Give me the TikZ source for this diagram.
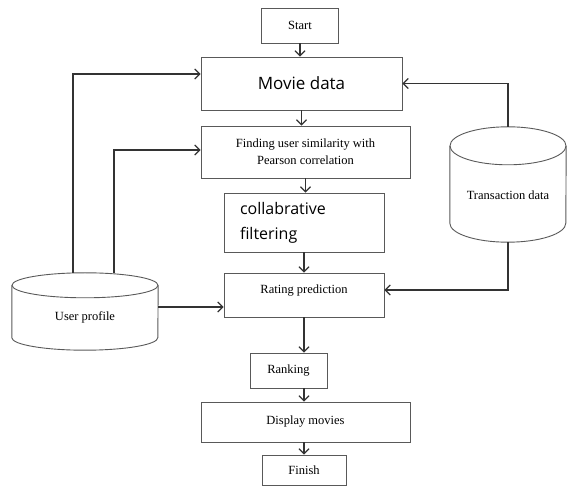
\documentclass[tikz,border=0pt]{standalone}
\usepackage{fontspec}
\setmainfont{Liberation Serif}
\newfontfamily\opensans{Open Sans}
\usetikzlibrary{arrows.meta}

\begin{document}
\begin{tikzpicture}[x=1pt,y=-1pt,
		box/.style={draw=black!65,line width=0.9pt,inner sep=0pt,align=center,font=\fontsize{12.5}{17}\selectfont},
		dbase/.style={inner sep=0pt,font=\fontsize{12.5}{17}\selectfont},
		wall/.style={draw=black!65,line width=0.9pt},
		arr/.style={draw=black!80,line width=1.3pt,-{Straight Barb[length=5pt,width=10pt,line width=1.2pt]}},
		bigfont/.style={font=\opensans\fontsize{16}{25}\selectfont}]
				\useasboundingbox(0,0)rectangle(568,486);
				\node[box,minimum width=77pt,minimum height=35pt](start)at(300,25.5){Start};
				\node[box,bigfont,font=\opensans\fontsize{17}{25}\selectfont,minimum width=201pt,minimum height=53pt](movie)at(301.5,83.5){Movie data};
				\node[box,minimum width=209pt,minimum height=52pt](sim)at(305.5,152){Finding user similarity with\\Pearson correlation};
				\node[box,bigfont,minimum height=59pt,text width=128pt,inner xsep=16pt,align=left](cf)at(304,222.5){collabrative\\filtering};
				\node[box,minimum width=160pt,text height=21pt,text depth=23pt](rate)at(304,295){Rating prediction};
				\node[box,minimum width=77pt,minimum height=35pt](rank)at(288.5,370.5){Ranking};
				\node[box,minimum width=209pt,minimum height=40pt](show)at(305.5,422){Display movies};
				\node[box,minimum width=84pt,minimum height=30pt](finish)at(304,470){Finish};
				% databases
				\node[dbase,minimum width=146pt,text height=48pt,text depth=29pt](user)at(85,311.5){User profile};
				\node[dbase,minimum width=116pt,text height=73pt,text depth=42pt](trans)at(508,184.5){Transaction data};
				\draw[wall]([yshift=-12.5pt]user.north)ellipse[x radius=73,y radius=12.5];
				\draw[wall]([yshift=-12.5pt]user.north west)--([yshift=12.5pt]user.south west)arc[start angle=180,end angle=0,x radius=73,y radius=12.5]--([yshift=-12.5pt]user.north east);
				\draw[wall]([yshift=-19pt]trans.north)ellipse[x radius=58,y radius=19];
				\draw[wall]([yshift=-19pt]trans.north west)--([yshift=19pt]trans.south west)arc[start angle=180,end angle=0,x radius=58,y radius=19]--([yshift=-19pt]trans.north east);
				% flow
				\draw[arr](start.south)--(start.south|-movie.north);
				\draw[arr](movie.south)--(movie.south|-sim.north);
				\draw[arr](sim.south)--(sim.south|-cf.north);
				\draw[arr](cf.south)--(cf.south|-rate.north);
				\draw[arr,line width=1.7pt](rate.south)--(rate.south|-rank.north);
				\draw[arr](rank.south-|rate.south)--(show.north-|rate.south);
				\draw[arr](show.south-|finish.north)--(finish.north);
				\draw[arr]([xshift=-12pt]user.north)|-([yshift=9.5pt]movie.west);
				\draw[arr]([xshift=29pt]user.north)|-([yshift=2pt]sim.west);
				\draw[arr]([yshift=4.5pt]user.east)--([yshift=4.5pt]user.east-|rate.west);
				\draw[arr](trans.north)|-(movie.east);
				\draw[arr](trans.south)|-([yshift=5pt]rate.east);
			\end{tikzpicture}
\end{document}
